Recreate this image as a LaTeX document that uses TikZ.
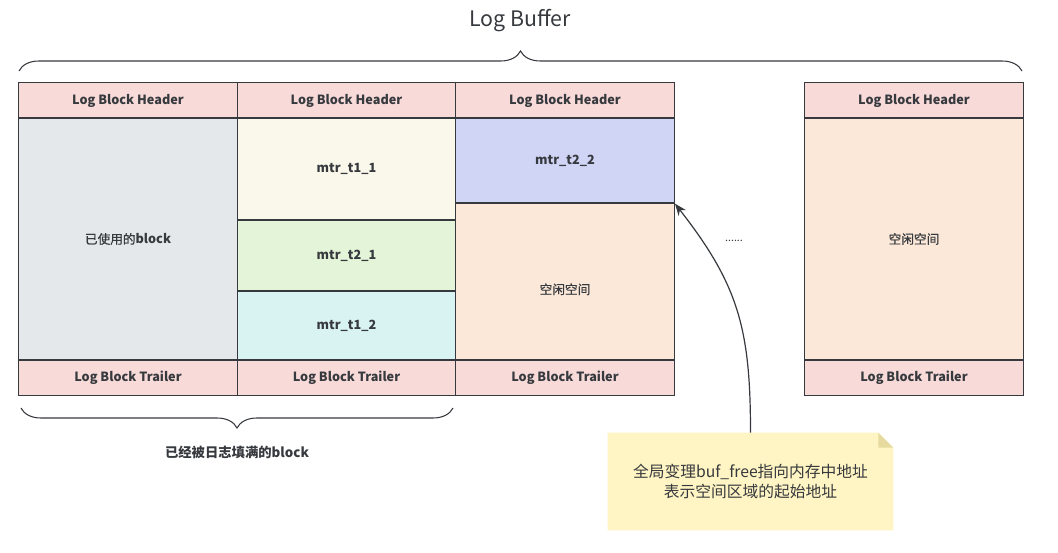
\documentclass[tikz,border=0pt]{standalone}
\usepackage{fontspec}
\setmainfont{Noto Sans CJK SC}
\newfontfamily\cjkmid{Noto Sans CJK SC}[FakeBold=0.7]
\usepackage{tikz}
\usetikzlibrary{arrows.meta,decorations.pathreplacing}
\definecolor{hdrpink}{HTML}{F8DAD9}
\definecolor{usedgrey}{HTML}{E5E8EA}
\definecolor{tonecream}{HTML}{FAF8EA}
\definecolor{ttwogreen}{HTML}{E3F4D9}
\definecolor{tonecyan}{HTML}{D9F3F3}
\definecolor{ttwoblue}{HTML}{D0D4F5}
\definecolor{freepeach}{HTML}{FCE8D9}
\definecolor{noteyellow}{HTML}{FFF4C3}
\definecolor{noteear}{HTML}{E6DA9E}
\definecolor{linegrey}{HTML}{36393D}
\newcommand{\plaincjk}[1]{{\mdseries\cjkmid #1}}

\begin{document}
\begin{tikzpicture}[x=0.75pt,y=-0.75pt]
  \tikzset{cell/.style={draw=linegrey,line width=0.9pt,inner sep=0pt,minimum width=164pt,font=\bfseries\fontsize{9.5}{11}\selectfont,text=linegrey}}
  \tikzset{rowcell/.style={cell,fill=hdrpink,minimum height=26.6pt}}
  \tikzset{bracket/.style={draw=linegrey,line width=0.8pt,decorate,decoration={brace,amplitude=15pt}}}
  \tikzset{pointer/.style={draw=linegrey,line width=0.9pt,-{Stealth[length=9pt,width=7pt]}}}
  \useasboundingbox (0,0) rectangle (1058,553);
  % top level label
  \node[font=\fontsize{16}{18}\selectfont,text=linegrey] (title) at (520,21) {Log Buffer};
  \coordinate (bufl) at (19,71);
  \coordinate (bufr) at (1022,71);
  \draw[bracket] (bufl) -- (bufr);
  % block 1
  \node[rowcell] (h1) at (128,100.5) {Log Block Header};
  \node[cell,fill=usedgrey,minimum height=181.5pt] (used) at (128,239) {\plaincjk{已使用的}block};
  \node[rowcell] (r1) at (128,378) {Log Block Trailer};
  % block 2
  \node[rowcell] (h2) at (346.5,100.5) {Log Block Header};
  \node[cell,fill=tonecream,minimum height=76.5pt] (m11) at (346.5,169) {mtr\_t1\_1};
  \node[cell,fill=ttwogreen,minimum height=53.25pt] (m21) at (346.5,255.5) {mtr\_t2\_1};
  \node[cell,fill=tonecyan,minimum height=51.75pt] (m12) at (346.5,325.5) {mtr\_t1\_2};
  \node[rowcell] (r2) at (346.5,378) {Log Block Trailer};
  % block 3
  \node[rowcell] (h3) at (565,100.5) {Log Block Header};
  \node[cell,fill=ttwoblue,minimum height=63.75pt] (m22) at (565,160.5) {mtr\_t2\_2};
  \node[cell,fill=freepeach,minimum height=117.75pt] (free3) at (565,281.5) {\raisebox{-9.5pt}[0pt][0pt]{\plaincjk{空闲空间}}};
  \node[rowcell] (r3) at (565,378) {Log Block Trailer};
  % gap
  \node[font=\fontsize{8}{10}\selectfont,text=linegrey] (dots) at (734,241) {......};
  % block 4
  \node[rowcell] (h4) at (914,100.5) {Log Block Header};
  \node[cell,fill=freepeach,minimum height=181.5pt] (free4) at (914,239) {\plaincjk{空闲空间}};
  \node[rowcell] (r4) at (914,378) {Log Block Trailer};
  % filled blocks
  \coordinate (fulll) at (21,408);
  \coordinate (fullr) at (453,408);
  \draw[bracket] (fullr) -- (fulll);
  \node[font=\bfseries\fontsize{10}{12}\selectfont,text=linegrey] (fulltext) at (237,452) {已经被日志填满的block};
  % note
  \node[minimum width=213.75pt,minimum height=72.75pt,inner sep=0pt] (note) at (750.5,481.5) {};
  \fill[noteyellow] (note.north west) -- ([xshift=-11.25pt]note.north east) -- ([yshift=-11.25pt]note.north east) -- (note.south east) -- (note.south west) -- cycle;
  \fill[noteear] ([xshift=-11.25pt]note.north east) -- ([xshift=-11.25pt,yshift=-11.25pt]note.north east) -- ([yshift=-11.25pt]note.north east) -- cycle;
  \node[align=center,font=\fontsize{11.8}{15.5}\selectfont,text=linegrey] (notetext) at (note.center) {全局变理buf\_free指向内存中地址\\表示空间区域的起始地址};
  \draw[pointer] (note.north) to[out=90,in=-52,looseness=1.1] (m22.south east);
\end{tikzpicture}
\end{document}
